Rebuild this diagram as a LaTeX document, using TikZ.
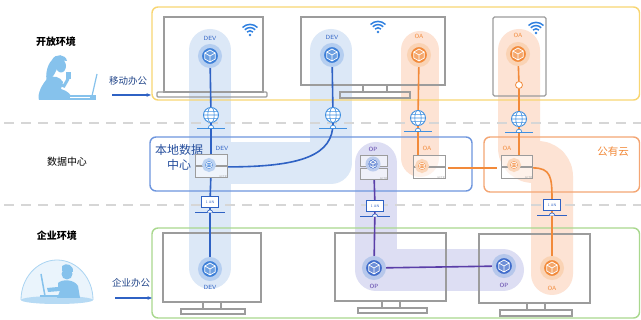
\documentclass[tikz,border=0pt]{standalone}
\usepackage{fontspec}
\setmainfont{Liberation Sans}
\newfontfamily\cjk{Noto Sans CJK SC}
\usetikzlibrary{calc,arrows.meta}
\pgfdeclarelayer{back}
\pgfdeclarelayer{wires}
\pgfsetlayers{back,wires,main}

\definecolor{devblue}{HTML}{2F62C4}
\definecolor{cubeblue}{HTML}{3C7FD8}
\definecolor{opcube}{HTML}{3F6CCB}
\definecolor{bandblue}{HTML}{DCE8F7}
\definecolor{oaorange}{HTML}{F28A3A}
\definecolor{bandorange}{HTML}{FDE3D4}
\definecolor{oppurple}{HTML}{5A3EA8}
\definecolor{bandpurple}{HTML}{DDDEF3}
\definecolor{devgray}{HTML}{9C9C9C}
\definecolor{frameyellow}{HTML}{F8D672}
\definecolor{framegreen}{HTML}{A9D88E}
\definecolor{frameblue}{HTML}{6E96DE}
\definecolor{frameorange}{HTML}{F4A674}
\definecolor{sepgray}{HTML}{D6D6D6}
\definecolor{figblue}{HTML}{86C2EC}
\definecolor{figpale}{HTML}{EAF4FC}
\definecolor{globeblue}{HTML}{3F8FE0}
\definecolor{wifiblue}{HTML}{2F80E0}

% isometric cube glyph drawn around a centre point
\newcommand\cubeglyph[2]{%
  \fill[white, opacity=.25] #1 ++(0,-#2) -- ++(0.866*#2,0.5*#2) -- ++(0,#2) -- ++(-0.866*#2,0.5*#2) -- ++(-0.866*#2,-0.5*#2) -- ++(0,-#2) -- cycle;
  \draw[white, line width=0.7pt, line join=round]
    #1 ++(0,-#2) -- ++(0.866*#2,0.5*#2) -- ++(0,#2) -- ++(-0.866*#2,0.5*#2) -- ++(-0.866*#2,-0.5*#2) -- ++(0,-#2) -- cycle
    #1 ++(-0.866*#2,-0.5*#2) -- #1 -- ++(0.866*#2,-0.5*#2)
    #1 -- ++(0,#2);}
% stand line with a small bump under a globe or an access box
\newcommand\standbase[3]{%
  \draw[#2, line width=0.7pt] ($(#1.south)+(-#3,5)$) -- ++(2*#3,0);
  \draw[#2, line width=0.7pt, fill=white] ($(#1.south)+(-2.8,5)$) arc[start angle=180, end angle=360, radius=2.8];}
% wifi symbol, #1 = dot position
\newcommand\wifi[1]{%
  \fill[wifiblue] #1 circle (1.4);
  \foreach \r in {4.2,7.4,10.6}
    \draw[wifiblue, line width=1.5pt] #1 ++(225:\r) arc[start angle=225, end angle=315, radius=\r];}

\begin{document}
\begin{tikzpicture}[x=1pt, y=-1pt,
  band/.style={draw=#1, line width=42pt, line cap=round, line join=round},
  frame/.style={draw=#1, line width=1.4pt, rounded corners=6pt},
  sep/.style={draw=sepgray, line width=1.3pt, dash pattern=on 10pt off 7pt},
  device/.style={draw=devgray, line width=1.3pt},
  wire/.style={draw=#1, line width=1.6pt},
  cubeicon/.style={circle, inner sep=0pt, minimum size=20pt, line width=4pt,
    fill=#1, draw=#1!38!white,
    path picture={\cubeglyph{(path picture bounding box.center)}{6}}},
  smallcube/.style={circle, inner sep=0pt, minimum size=12pt, line width=3pt,
    fill=#1, draw=#1!35!white,
    path picture={\cubeglyph{(path picture bounding box.center)}{3.6}}},
  srvglow/.style={circle, inner sep=0pt, minimum size=11pt, line width=3pt,
    fill=#1, draw=#1!35!white,
    path picture={\draw[white, line width=0.5pt] (path picture bounding box.center) circle (3)
      ($(path picture bounding box.center)+(-3,0)$) -- ++(6,0)
      (path picture bounding box.center) ellipse (1.3 and 3);}},
  globe/.style={circle, inner sep=0pt, minimum size=15pt, draw=globeblue, line width=0.9pt, fill=white,
    path picture={\draw[globeblue, line width=0.6pt]
      (path picture bounding box.center) ellipse (3.2 and 8)
      (path picture bounding box.west) -- (path picture bounding box.east)
      ($(path picture bounding box.center)+(-8,-3.6)$) -- ++(16,0)
      ($(path picture bounding box.center)+(-8,3.6)$) -- ++(16,0);}},
  srv/.style={draw=devgray, fill=white, fill opacity=.55, line width=0.8pt,
    minimum width=#1, minimum height=11pt, inner sep=0pt},
  srvtag/.style={font=\sffamily\fontsize{2.6}{3}\selectfont, text=devgray, text opacity=1, inner sep=0.6pt, anchor=south east},
  anbox/.style={draw=#1, fill=white, line width=0.8pt, minimum width=17pt, minimum height=10.5pt,
    inner sep=0pt, font=\sffamily\fontsize{3.6}{4}\selectfont, text=#1},
  lbl/.style={font=\sffamily\fontsize{6}{7}\selectfont, inner sep=0pt},
  cn/.style={font=\cjk\fontsize{#1}{12}\selectfont, inner sep=0pt},
  cn/.default=9.5,
  hint/.style={-{Stealth[length=4.5pt,width=3.6pt]}, draw=devblue, line width=1.3pt},
  fig/.style={fill=figblue}
]
\useasboundingbox (0,0) rectangle (641,320);

\begin{pgfonlayer}{back}
  \fill[white] (0,0) rectangle (641,320);
  % highlighted paths of each team
  \draw[band=bandblue] (210,50) -- (210,268);
  \draw[band=bandblue] (331,50) -- (331,163) -- (215,163);
  \draw[band=bandpurple] (376,163) -- (376,270) -- (503,270);
  \draw[band=bandorange, line width=38pt] (420,50) -- (420,158);
  \draw[band=bandorange, rounded corners=14pt] (519,50) -- (519,162) -- (552,162) -- (552,274);

  % zone separators
  \draw[sep] (4,123) -- (641,123);
  \draw[sep] (4,205) -- (641,205);

  % zone frames
  \draw[frame=frameyellow] (152,7) rectangle (639.5,100);
  \draw[frame=frameblue] (150,137) rectangle (472,191);
  \draw[frame=frameorange] (484,137) rectangle (639.5,192);
  \draw[frame=framegreen] (152,228) rectangle (639.5,318);

  % open environment devices: laptop, desktop monitor, tablet
  \draw[device] (164,17) rectangle (263,92);
  \draw[device, rounded corners=1pt] (157,92) rectangle (267,97);
  \draw[device] (301,17) rectangle (445,85);
  \draw[device] (363,85) rectangle (387,92);
  \draw[device] (340,92) rectangle (410,98);
  \draw[device, rounded corners=1.5pt] (493,17) rectangle (546,96);
  \wifi{(250,35)}
  \wifi{(378,32)}
  \wifi{(536,33)}

  % enterprise monitors
  \draw[device] (163,233) rectangle (261,302);
  \draw[device] (203,302) rectangle (221,309);
  \draw[device] (181,309) rectangle (245,314);
  \draw[device] (335,233) rectangle (446,301);
  \draw[device] (382,301) rectangle (400,308);
  \draw[device] (358,308) rectangle (427,313);
  \draw[device] (479,234) rectangle (590,303);
  \draw[device] (527,303) rectangle (545,310);
  \draw[device] (500,310) rectangle (572,316);

  % mobile worker with laptop
  \fill[fig] (52,60) .. controls (55,53) and (66,54) .. (67,61)
     .. controls (64,60) and (60,61) .. (58,66)
     .. controls (56,72) and (53,78) .. (47,82)
     .. controls (45,75) and (47,65) .. (52,60) -- cycle;
  \fill[fig] (61,66) ellipse (5 and 6.5);
  \fill[fig] (48,78) .. controls (42,84) and (37,94) .. (39,100)
     -- (72,100) .. controls (72,95) and (68,91) .. (61,89)
     -- (63,82) .. controls (60,77) and (54,75) .. (48,78) -- cycle;
  \draw[figblue, line width=3pt, line cap=round] (54,82) -- (64,86) -- (68,79);
  \fill[fig] (66,72) rectangle (70.5,79);
  \fill[fig] (68,95) rectangle (96,100);
  \draw[figblue, line width=1.2pt] (92,96) -- (97,74);
  \draw[white, line width=0.5pt] (70,97) -- (90,97);

  % office worker under a dome
  \fill[figpale] (21,300) arc[start angle=180, end angle=360, x radius=36, y radius=40] -- cycle;
  \draw[figblue!70!white, line width=0.8pt] (21,300) arc[start angle=180, end angle=360, x radius=36, y radius=40];
  \fill[figblue!60!white] (57,300) ellipse (36 and 4);
  \fill[fig] (67,274) circle (5.5);
  \fill[fig] (62,266) .. controls (66,262) and (74,265) .. (73,272) -- (62,271) -- cycle;
  \fill[fig] (58,283) .. controls (62,279) and (74,279) .. (78,286)
     -- (80,298) -- (57,298) -- (60,291) -- (48,292) -- (47,288) -- (58,287) -- cycle;
  \draw[figblue, line width=1.5pt] (41,274) -- (45,296);
  \draw[figblue, line width=1.2pt] (40,296) -- (66,296);
\end{pgfonlayer}

% zone titles and entry arrows
\node[cn=10, font=\cjk\bfseries\fontsize{10}{12}\selectfont] (zopen) at (56,42) {开放环境};
\node[cn=10] (zdc) at (67,162) {数据中心};
\node[cn=10, font=\cjk\bfseries\fontsize{10}{12}\selectfont] (zent) at (57,236) {企业环境};
\node[cn, text=devblue!70!black] (tmob) at (128,81) {移动办公};
\node[cn, text=devblue!70!black] (toff) at (131,283) {企业办公};
\coordinate (m0) at (112,95);
\coordinate (m1) at (151,95);
\coordinate (o0) at (115,298);
\coordinate (o1) at (152,298);
\draw[hint] (m0) -- (m1);
\draw[hint] (o0) -- (o1);
\node[cn=12, text=devblue!80!black, align=center, font=\cjk\fontsize{12}{15}\selectfont] (tdc) at (179,157) {本地数据\\中心};
\node[cn=10.5, text=oaorange] (tcloud) at (613,152) {公有云};

% application instances in the open environment
\node[cubeicon=cubeblue] (dv1) at (210,56) {};
\node[cubeicon=cubeblue] (dv2) at (332,55) {};
\node[cubeicon=oaorange] (oa1) at (419,55) {};
\node[cubeicon=oaorange] (oa2) at (518,54) {};
\node[lbl, text=devblue] (dv1l) at (210,38) {DEV};
\node[lbl, text=devblue] (dv2l) at (332,37) {DEV};
\node[lbl, text=oaorange] (oa1l) at (419,36) {OA};
\node[lbl, text=oaorange] (oa2l) at (518,35) {OA};
\node[circle, draw=oaorange, fill=white, line width=0.8pt, minimum size=7pt, inner sep=0pt] (ring) at (519,85) {};

% internet gateways
\node[globe] (g1) at (211,115) {};
\node[globe] (g2) at (333,115) {};
\node[globe] (g3) at (418,118) {};
\node[globe] (g4) at (519,119) {};
\standbase{g1}{globeblue}{14}
\standbase{g2}{globeblue}{14}
\standbase{g3}{globeblue}{14}
\standbase{g4}{globeblue}{14}

% servers in the data centre and the public cloud
\node[srv=32pt] (s1) at (211,160) {};
\node[srv=32pt] (s1b) at (211,172) {};
\node[srvtag] at (s1b.south east) {GCTR};
\node[srv=27pt] (s2) at (374,161) {};
\node[srv=27pt] (s2b) at (374,174) {};
\node[srvtag] at (s2b.south east) {GCTR};
\node[srv=32pt] (s3) at (429,161) {};
\node[srv=32pt] (s3b) at (429,173) {};
\node[srvtag] at (s3b.south east) {GCTR};
\node[srv=31pt] (s4) at (517,161) {};
\node[srv=31pt] (s4b) at (517,173) {};
\node[srvtag] at (s4b.south east) {GCTR};
\node[srvglow=cubeblue] (i1) at (209,165) {};
\node[smallcube=opcube] (i2) at (373,164) {};
\node[srvglow=oaorange] (i3) at (422,166) {};
\node[srvglow=oaorange] (i4) at (514,165) {};
\node[lbl, text=devblue] (s1l) at (222,148) {DEV};
\node[lbl, text=oppurple] (s2l) at (373,149) {OP};
\node[lbl, text=oaorange] (s3l) at (427,148) {OA};
\node[lbl, text=oaorange] (s4l) at (507,148) {OA};

% access boxes
\node[anbox=devblue] (a1) at (210,202) {1 AN};
\node[anbox=devblue] (a2) at (375,206) {1 AN};
\node[anbox=devblue] (a3) at (552,205) {1 AN};
\standbase{a1}{devblue}{15}
\standbase{a2}{devblue}{15}
\standbase{a3}{devblue}{15}

% enterprise instances
\node[cubeicon=cubeblue] (bdv) at (210,269) {};
\node[cubeicon=opcube] (bop1) at (374,268) {};
\node[cubeicon=opcube] (bop2) at (504,266) {};
\node[cubeicon=oaorange] (boa) at (552,268) {};
\node[lbl, text=devblue] (bdvl) at (210,287) {DEV};
\node[lbl, text=oppurple] (bop1l) at (374,286) {OP};
\node[lbl, text=oppurple] (bop2l) at (504,285) {OP};
\node[lbl, text=oaorange] (boal) at (552,288) {OA};

% connections
\begin{pgfonlayer}{wires}
  \draw[wire=devblue] (dv1) -- (g1);
  \draw[wire=devblue] (g1) -- (s1);
  \draw[wire=devblue] (s1b) -- (a1);
  \draw[wire=devblue] (a1) -- (bdv);
  \draw[wire=devblue] (dv2) -- (g2);
  \draw[wire=devblue] (g2.south) .. controls ($(g2.south)+(0,32)$) and ($(s1.south east)+(75,1)$) .. ($(s1.south east)+(0,1)$);
  \draw[wire=oppurple] (s2b) -- (a2);
  \draw[wire=oppurple] (a2) -- (bop1);
  \draw[wire=oppurple] (bop1) -- (bop2);
  \draw[wire=oaorange] (oa1) -- (g3);
  \draw[wire=oaorange] (g3) -- (g3 |- s3.north);
  \draw[wire=oaorange] ($(s3.south east)+(3,1)$) -- ($(s4.south west)+(-4,1)$);
  \draw[wire=oaorange] (oa2) -- (ring);
  \draw[wire=oaorange] (ring) -- (g4);
  \draw[wire=oaorange] (g4) -- (g4 |- s4.north);
  \draw[wire=oaorange] ($(s4.south east)+(0,1)$) .. controls ($(s4.south east)+(18,1)$) and ($(a3.north)+(0,-22)$) .. (a3.north);
  \draw[wire=oaorange] (a3) -- (boa);
\end{pgfonlayer}
\end{tikzpicture}
\end{document}
